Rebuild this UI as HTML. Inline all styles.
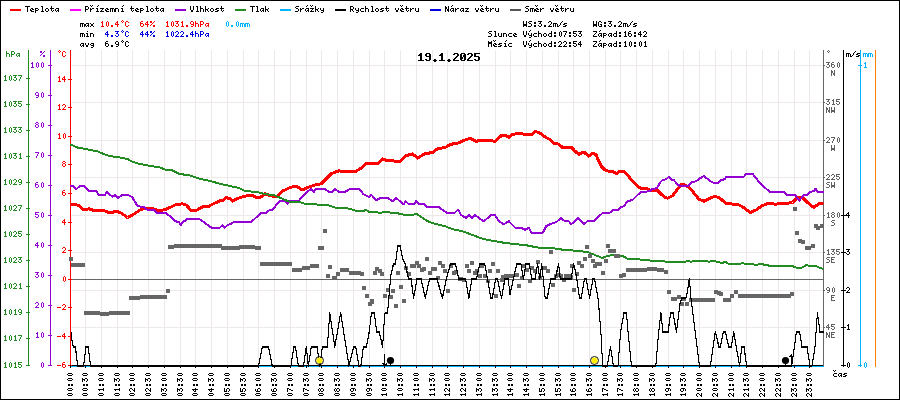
<!DOCTYPE html>
<html><head><meta charset="utf-8"><title>chart</title>
<style>
html,body{margin:0;padding:0;background:#fff;}
#c{position:relative;width:900px;height:400px;overflow:hidden;background:#fff;font-family:"Liberation Mono",monospace;}
#tx{position:absolute;left:0;top:0;width:900px;height:400px;color:transparent;}
.t,.ti,.tr{position:absolute;font-size:8px;line-height:8px;white-space:pre;color:transparent;}
.ti{font-size:11px;line-height:11px;font-weight:bold;}
.tr{transform-origin:0 0;transform:rotate(-90deg);}
</style></head><body><div id="c">
<svg width="900" height="400" viewBox="0 0 900 400" style="position:absolute;left:0;top:0">
<rect x="0" y="0" width="900" height="400" fill="#fff"/>
<path d="M85.5 50V365M101.5 50V365M117.5 50V365M132.5 50V365M148.5 50V365M164.5 50V365M180.5 50V365M195.5 50V365M211.5 50V365M227.5 50V365M243.5 50V365M258.5 50V365M274.5 50V365M290.5 50V365M306.5 50V365M321.5 50V365M337.5 50V365M353.5 50V365M369.5 50V365M384.5 50V365M400.5 50V365M416.5 50V365M432.5 50V365M447.5 50V365M463.5 50V365M479.5 50V365M495.5 50V365M510.5 50V365M526.5 50V365M542.5 50V365M558.5 50V365M573.5 50V365M589.5 50V365M605.5 50V365M620.5 50V365M636.5 50V365M652.5 50V365M668.5 50V365M683.5 50V365M699.5 50V365M715.5 50V365M731.5 50V365M746.5 50V365M762.5 50V365M778.5 50V365M794.5 50V365M809.5 50V365M71 65.5H823M71 102.5H823M71 140.5H823M71 177.5H823M71 215.5H823M71 252.5H823M71 290.5H823M71 327.5H823" stroke="#eee8e8" stroke-width="1" fill="none" shape-rendering="crispEdges"/>
<path d="M71 279.5H823" stroke="#666" stroke-width="1" shape-rendering="crispEdges"/>
<path d="M71 366.5H824" stroke="#00b4ff" stroke-width="1" shape-rendering="crispEdges"/>
<path d="M70 365.5H824" stroke="#000" stroke-width="1" shape-rendering="crispEdges"/>
<g shape-rendering="crispEdges" fill="none" stroke-width="1">
<path d="M28.5 50V366" stroke="#228b22"/>
<path d="M50.5 50V366" stroke="#9400d3"/>
<path d="M70.5 50V366" stroke="#ff0000"/>
<path d="M823.5 50V366" stroke="#666"/>
<path d="M843.5 50V367" stroke="#000"/>
<path d="M860.5 50V367" stroke="#00b4ff"/>
<path d="M875.5 50V367" stroke="#ff8000"/>
<path d="M26 365.5H30M26 338.5H30M26 312.5H30M26 286.5H30M26 260.5H30M26 234.5H30M26 208.5H30M26 182.5H30M26 156.5H30M26 130.5H30M26 104.5H30M26 78.5H30" stroke="#228b22"/>
<path d="M48 365.5H52M48 335.5H52M48 305.5H52M48 275.5H52M48 245.5H52M48 215.5H52M48 185.5H52M48 155.5H52M48 125.5H52M48 95.5H52M48 65.5H52" stroke="#9400d3"/>
<path d="M68 365.5H72M68 336.5H72M68 307.5H72M68 279.5H72M68 250.5H72M68 222.5H72M68 193.5H72M68 164.5H72M68 136.5H72M68 107.5H72M68 79.5H72" stroke="#ff0000"/>
<path d="M823 65.5H825M823 102.5H825M823 140.5H825M823 177.5H825M823 215.5H825M823 252.5H825M823 290.5H825M823 327.5H825" stroke="#666"/>
<path d="M841 215.5H846M841 252.5H846M841 290.5H846M841 327.5H846M841 365.5H846" stroke="#000"/>
<path d="M858 65.5H862M858 365.5H862" stroke="#00b4ff"/>
<path d="M70.5 365V368M85.5 365V368M101.5 365V368M117.5 365V368M132.5 365V368M148.5 365V368M164.5 365V368M180.5 365V368M195.5 365V368M211.5 365V368M227.5 365V368M243.5 365V368M258.5 365V368M274.5 365V368M290.5 365V368M306.5 365V368M321.5 365V368M337.5 365V368M353.5 365V368M369.5 365V368M384.5 365V368M400.5 365V368M416.5 365V368M432.5 365V368M447.5 365V368M463.5 365V368M479.5 365V368M495.5 365V368M510.5 365V368M526.5 365V368M542.5 365V368M558.5 365V368M573.5 365V368M589.5 365V368M605.5 365V368M620.5 365V368M636.5 365V368M652.5 365V368M668.5 365V368M683.5 365V368M699.5 365V368M715.5 365V368M731.5 365V368M746.5 365V368M762.5 365V368M778.5 365V368M794.5 365V368M809.5 365V368" stroke="#000"/>
</g>
<polyline points="70.5,205.0 75.0,204.2 80.0,206.2 83.8,210.0 88.8,208.8 93.8,210.5 103.8,210.5 110.0,213.0 116.2,211.2 121.2,213.0 127.5,217.5 132.5,215.0 140.0,210.0 146.2,208.0 151.2,208.0 156.2,210.0 161.2,210.5 165.0,209.5 170.0,207.5 175.0,205.0 182.5,203.8 186.2,205.0 191.2,210.5 196.2,210.5 202.5,207.0 208.8,206.2 215.0,203.0 220.0,200.8 223.8,200.0 226.2,197.5 230.0,198.8 232.5,201.2 238.8,198.0 245.0,196.2 251.2,195.0 256.2,197.5 260.0,197.5 265.0,193.8 270.0,195.5 276.2,197.0 280.0,193.8 282.5,190.8 285.0,190.0 290.0,187.5 296.2,186.2 302.5,190.0 307.5,187.5 315.0,185.0 321.2,183.8 326.2,178.8 331.2,173.8 338.8,170.8 346.2,171.8 356.2,171.2 361.2,168.0 366.2,163.8 378.8,163.0 382.5,158.8 387.5,160.8 400.0,161.2 405.0,156.2 412.5,153.8 417.5,158.0 425.0,153.8 432.5,152.5 437.5,148.8 445.0,147.5 451.2,144.2 457.5,143.2 463.8,140.5 470.0,138.2 476.2,141.2 485.0,140.0 495.0,141.2 501.2,135.8 506.2,135.5 508.8,137.5 512.5,134.5 518.8,133.2 525.0,134.5 531.2,135.0 535.0,131.2 540.0,133.0 545.0,137.0 550.0,139.5 553.8,143.2 558.8,144.2 562.5,147.5 567.5,148.0 571.2,147.0 575.0,151.2 578.8,154.2 583.8,152.0 588.8,156.2 593.0,153.0 596.2,155.0 598.8,161.2 601.2,166.2 605.0,170.0 608.8,171.2 612.5,171.2 616.2,173.8 620.0,171.2 623.8,171.2 627.5,175.0 632.5,181.2 636.2,185.0 640.0,188.0 645.0,188.0 650.0,190.0 657.5,190.5 661.2,194.2 665.0,197.5 667.5,198.2 672.5,195.8 677.5,189.0 681.2,184.5 685.0,185.0 688.5,187.0 692.5,191.2 698.8,199.2 703.8,201.2 708.8,198.8 715.0,196.2 720.0,198.2 726.2,203.8 737.5,204.2 743.8,207.5 750.0,212.5 756.2,210.0 761.2,206.2 768.8,203.2 775.0,204.2 787.5,203.2 792.5,202.5 797.5,197.5 802.5,197.5 807.5,202.5 813.8,207.5 820.0,203.2 823.5,204.2" fill="none" stroke="#ff0000" stroke-width="3" stroke-linejoin="round" stroke-linecap="butt" shape-rendering="crispEdges"/>
<polyline points="70.5,185.5 73.0,186.2 76.2,189.2 80.0,185.8 83.8,185.8 88.8,191.2 96.2,191.2 98.8,195.0 105.0,195.0 106.8,191.8 112.5,196.8 115.5,195.0 118.0,198.0 122.5,194.5 127.5,194.5 132.5,197.5 137.5,206.2 143.8,207.0 147.5,210.0 153.8,210.0 156.2,212.5 165.0,212.5 170.0,216.2 175.0,221.2 178.8,222.0 180.8,225.0 182.5,222.5 187.5,218.8 198.8,218.8 203.8,222.0 207.5,225.0 211.2,227.5 220.0,227.5 222.5,225.0 224.5,228.0 227.5,225.0 231.2,223.8 233.8,222.0 251.2,222.0 257.5,216.2 261.2,213.0 266.2,213.0 268.8,210.5 272.5,210.0 276.2,205.0 280.0,201.2 285.0,200.5 287.5,203.8 290.0,200.8 298.8,200.8 306.2,192.5 311.2,188.8 313.8,192.0 316.2,188.8 325.0,188.8 328.8,192.0 332.5,192.0 335.0,188.8 338.8,192.0 345.0,192.0 350.0,188.8 358.8,188.8 363.8,194.5 368.8,197.0 371.2,194.5 376.2,200.5 380.0,198.0 387.5,198.0 392.5,201.2 396.2,198.0 403.8,204.5 405.5,201.2 408.8,204.2 413.8,204.2 416.2,201.2 418.8,204.2 423.8,204.2 427.5,207.0 438.8,207.0 446.2,212.5 455.0,212.5 458.0,209.5 461.2,215.0 466.2,218.0 468.8,215.0 471.8,218.0 475.0,215.0 478.8,218.0 483.8,221.2 487.5,218.2 491.2,215.0 495.0,215.0 498.8,221.2 503.8,224.2 508.8,221.2 515.0,227.5 521.2,227.5 525.0,230.0 528.8,227.5 531.8,233.2 542.5,233.2 546.2,226.2 550.0,224.2 556.2,222.0 561.2,218.2 565.0,221.2 568.8,221.2 571.2,224.2 575.0,221.2 578.2,218.2 583.8,224.2 587.5,221.2 593.8,221.2 602.5,213.0 610.0,212.5 613.8,209.5 618.8,209.5 621.2,207.0 623.8,206.2 627.5,201.2 632.5,200.0 637.5,195.0 641.2,192.2 650.0,191.2 652.5,188.8 657.0,188.2 660.0,182.5 662.5,180.0 666.2,179.2 668.8,176.8 671.2,179.5 673.8,180.0 677.5,184.5 680.0,185.8 688.8,185.8 691.2,182.5 696.2,181.2 700.0,178.2 703.8,176.2 707.5,178.8 712.5,182.5 718.8,182.5 721.2,180.0 725.0,179.2 726.2,176.8 743.8,176.8 746.2,173.8 752.5,173.8 757.5,180.0 762.5,185.8 770.0,191.8 783.8,191.8 786.8,195.0 795.0,195.0 799.2,200.8 803.8,195.0 807.5,195.0 810.0,192.0 813.8,191.2 815.5,188.8 817.5,191.8 823.5,191.8" fill="none" stroke="#9400d3" stroke-width="2" stroke-linejoin="round" shape-rendering="crispEdges"/>
<polyline points="70.5,144.5 77.5,147.5 85.0,148.8 92.5,150.5 96.0,150.5 101.0,153.0 109.0,156.0 120.0,157.5 127.5,159.0 132.5,161.8 140.0,164.0 150.0,165.8 160.0,167.5 165.0,169.5 172.5,170.5 179.0,173.8 190.0,175.5 200.0,178.8 210.0,181.0 220.0,183.8 230.0,186.0 239.0,188.0 245.0,191.0 257.0,192.0 265.0,194.0 275.0,195.5 284.0,199.5 290.0,202.0 300.0,202.0 306.2,204.5 315.0,203.8 318.8,205.0 328.8,205.5 336.2,208.0 345.0,208.0 351.2,209.2 357.5,211.2 362.5,211.2 366.2,210.0 370.0,212.5 376.2,212.0 380.0,213.0 383.8,212.0 396.2,213.0 405.0,215.0 412.5,215.0 416.2,213.8 420.0,216.2 427.5,221.2 435.0,223.8 445.0,226.2 452.5,229.2 462.5,231.2 472.5,235.0 482.5,238.8 492.5,240.8 502.5,242.5 515.0,244.2 525.0,245.0 537.5,247.5 552.5,248.2 565.0,250.0 577.5,250.8 587.5,252.0 595.0,255.0 602.5,258.0 607.5,255.8 615.0,255.0 622.5,255.8 627.5,258.8 637.5,259.2 650.0,260.5 670.0,261.8 685.0,261.8 687.5,260.8 691.2,261.8 695.0,260.8 705.0,260.8 708.8,261.8 712.5,260.8 722.5,263.0 725.0,261.8 728.8,263.8 737.5,264.2 742.5,263.2 747.5,264.5 752.5,264.2 756.2,265.0 760.0,263.8 770.0,265.8 785.0,265.8 792.5,266.2 797.5,268.0 802.5,267.5 806.2,265.0 811.2,266.2 816.2,266.2 820.0,268.0 823.5,268.8" fill="none" stroke="#228b22" stroke-width="2" stroke-linejoin="round" shape-rendering="crispEdges"/>
<g fill="#666" shape-rendering="crispEdges"><rect x="69" y="257" width="4" height="4"/><rect x="166" y="289" width="4" height="4"/><rect x="328" y="265" width="4" height="4"/><rect x="326" y="274" width="4" height="4"/><rect x="336" y="272" width="4" height="4"/><rect x="360" y="272" width="4" height="4"/><rect x="362" y="286" width="4" height="4"/><rect x="365" y="294" width="4" height="4"/><rect x="370" y="299" width="4" height="4"/><rect x="373" y="271" width="4" height="4"/><rect x="375" y="267" width="4" height="4"/><rect x="378" y="269" width="4" height="4"/><rect x="380" y="272" width="4" height="4"/><rect x="383" y="294" width="4" height="4"/><rect x="386" y="288" width="4" height="4"/><rect x="389" y="295" width="4" height="4"/><rect x="391" y="289" width="4" height="4"/><rect x="396" y="271" width="4" height="4"/><rect x="399" y="285" width="4" height="4"/><rect x="402" y="299" width="4" height="4"/><rect x="404" y="266" width="4" height="4"/><rect x="407" y="272" width="4" height="4"/><rect x="410" y="264" width="4" height="4"/><rect x="412" y="264" width="4" height="4"/><rect x="415" y="261" width="4" height="4"/><rect x="417" y="264" width="4" height="4"/><rect x="420" y="268" width="4" height="4"/><rect x="422" y="267" width="4" height="4"/><rect x="425" y="257" width="4" height="4"/><rect x="428" y="271" width="4" height="4"/><rect x="431" y="267" width="4" height="4"/><rect x="433" y="267" width="4" height="4"/><rect x="436" y="276" width="4" height="4"/><rect x="438" y="261" width="4" height="4"/><rect x="441" y="264" width="4" height="4"/><rect x="443" y="269" width="4" height="4"/><rect x="446" y="289" width="4" height="4"/><rect x="449" y="264" width="4" height="4"/><rect x="452" y="271" width="4" height="4"/><rect x="454" y="270" width="4" height="4"/><rect x="458" y="277" width="4" height="4"/><rect x="459" y="277" width="4" height="4"/><rect x="462" y="278" width="4" height="4"/><rect x="465" y="264" width="4" height="4"/><rect x="467" y="269" width="4" height="4"/><rect x="470" y="261" width="4" height="4"/><rect x="473" y="271" width="4" height="4"/><rect x="475" y="269" width="4" height="4"/><rect x="478" y="274" width="4" height="4"/><rect x="480" y="264" width="4" height="4"/><rect x="483" y="274" width="4" height="4"/><rect x="486" y="279" width="4" height="4"/><rect x="488" y="269" width="4" height="4"/><rect x="491" y="262" width="4" height="4"/><rect x="494" y="294" width="4" height="4"/><rect x="496" y="269" width="4" height="4"/><rect x="500" y="278" width="4" height="4"/><rect x="501" y="275" width="4" height="4"/><rect x="504" y="274" width="4" height="4"/><rect x="506" y="274" width="4" height="4"/><rect x="510" y="274" width="4" height="4"/><rect x="515" y="273" width="4" height="4"/><rect x="517" y="284" width="4" height="4"/><rect x="520" y="276" width="4" height="4"/><rect x="522" y="264" width="4" height="4"/><rect x="525" y="268" width="4" height="4"/><rect x="528" y="279" width="4" height="4"/><rect x="530" y="266" width="4" height="4"/><rect x="533" y="269" width="4" height="4"/><rect x="536" y="260" width="4" height="4"/><rect x="538" y="276" width="4" height="4"/><rect x="543" y="266" width="4" height="4"/><rect x="546" y="269" width="4" height="4"/><rect x="549" y="250" width="4" height="4"/><rect x="551" y="283" width="4" height="4"/><rect x="554" y="274" width="4" height="4"/><rect x="557" y="273" width="4" height="4"/><rect x="559" y="274" width="4" height="4"/><rect x="562" y="278" width="4" height="4"/><rect x="564" y="274" width="4" height="4"/><rect x="567" y="274" width="4" height="4"/><rect x="569" y="275" width="4" height="4"/><rect x="570" y="264" width="4" height="4"/><rect x="572" y="288" width="4" height="4"/><rect x="575" y="272" width="4" height="4"/><rect x="577" y="261" width="4" height="4"/><rect x="580" y="264" width="4" height="4"/><rect x="583" y="257" width="4" height="4"/><rect x="585" y="245" width="4" height="4"/><rect x="588" y="254" width="4" height="4"/><rect x="591" y="259" width="4" height="4"/><rect x="593" y="264" width="4" height="4"/><rect x="595" y="262" width="4" height="4"/><rect x="598" y="262" width="4" height="4"/><rect x="601" y="271" width="4" height="4"/><rect x="604" y="259" width="4" height="4"/><rect x="606" y="244" width="4" height="4"/><rect x="608" y="249" width="4" height="4"/><rect x="612" y="249" width="4" height="4"/><rect x="614" y="254" width="4" height="4"/><rect x="616" y="254" width="4" height="4"/><rect x="619" y="274" width="4" height="4"/><rect x="622" y="273" width="4" height="4"/><rect x="667" y="290" width="4" height="4"/><rect x="714" y="290" width="4" height="4"/><rect x="717" y="291" width="4" height="4"/><rect x="719" y="292" width="4" height="4"/><rect x="730" y="294" width="4" height="4"/><rect x="790" y="292" width="4" height="4"/><rect x="368" y="302" width="4" height="4"/><rect x="370" y="300" width="4" height="4"/><rect x="394" y="304" width="4" height="4"/><rect x="402" y="299" width="4" height="4"/><rect x="323" y="229" width="4" height="4"/><rect x="680" y="302" width="4" height="4"/><rect x="685" y="302" width="4" height="4"/><rect x="793" y="207" width="4" height="4"/><rect x="795" y="231" width="4" height="4"/><rect x="798" y="239" width="4" height="4"/><rect x="801" y="240" width="4" height="4"/><rect x="811" y="244" width="4" height="4"/><rect x="814" y="224" width="4" height="4"/><rect x="816" y="226" width="4" height="4"/><rect x="71" y="263" width="14" height="4"/><rect x="84" y="311" width="16" height="4"/><rect x="100" y="312" width="9" height="4"/><rect x="109" y="311" width="21" height="4"/><rect x="129" y="296" width="11" height="4"/><rect x="140" y="295" width="27" height="4"/><rect x="168" y="245" width="6" height="4"/><rect x="174" y="244" width="48" height="4"/><rect x="221" y="246" width="19" height="4"/><rect x="239" y="245" width="16" height="4"/><rect x="255" y="246" width="6" height="4"/><rect x="260" y="262" width="32" height="4"/><rect x="292" y="268" width="5" height="4"/><rect x="297" y="268" width="5" height="4"/><rect x="302" y="266" width="8" height="4"/><rect x="310" y="264" width="9" height="4"/><rect x="318" y="246" width="6" height="4"/><rect x="332" y="276" width="5" height="4"/><rect x="340" y="268" width="9" height="4"/><rect x="349" y="271" width="12" height="4"/><rect x="626" y="268" width="21" height="4"/><rect x="647" y="267" width="10" height="4"/><rect x="657" y="268" width="7" height="4"/><rect x="664" y="270" width="4" height="4"/><rect x="671" y="297" width="6" height="4"/><rect x="677" y="295" width="4" height="4"/><rect x="682" y="297" width="4" height="4"/><rect x="689" y="298" width="26" height="4"/><rect x="723" y="298" width="8" height="4"/><rect x="734" y="290" width="4" height="4"/><rect x="738" y="294" width="53" height="4"/><rect x="805" y="246" width="6" height="4"/><rect x="820" y="224" width="4" height="4"/></g>
<g fill="none" stroke="#000" stroke-width="1" stroke-linejoin="miter" shape-rendering="crispEdges"><polyline points="71.0,331.5 72.3,342.5 73.5,346.5 75.2,346.5 75.9,350.5 77.6,365.5 83.5,365.5 86.0,346.5 88.3,346.5 90.5,365.5 258.6,365.5 262.3,346.5 268.6,346.5 272.3,365.5 290.9,365.5 293.8,346.5 295.4,346.5 298.4,365.5 303.5,365.5 306.3,346.5 308.3,365.5 311.3,346.5 317.1,346.5 319.8,365.5 322.4,346.5 327.3,346.5 329.8,312.5 334.8,346.5 340.7,312.5 349.0,365.5 353.7,346.5 355.7,346.5 359.0,365.5 360.8,365.5 363.4,346.5 366.4,346.5 369.2,331.5 371.4,312.5 374.2,312.5 376.8,331.5 379.3,331.5 382.6,346.5 384.3,319.5 385.1,312.5 387.6,312.5 388.8,297.5 391.0,273.9 393.5,263.5 395.5,263.5 397.7,245.5 400.2,245.5 402.7,258.0 405.2,263.5 408.6,278.5 411.1,278.5 413.6,297.5 417.0,278.5 421.1,278.5 425.3,297.5 429.5,278.5 437.0,278.5 442.4,297.5 446.3,278.5 450.5,263.5 455.5,263.5 458.8,278.5 465.5,278.5 468.9,297.5 471.9,278.5 476.4,278.5 479.8,263.5 484.8,263.5 488.1,281.4 490.7,297.5 492.3,297.5 495.7,278.5 497.4,278.5 501.5,297.5 504.9,278.5 508.2,278.5 510.0,294.0 513.4,278.5 516.7,263.5 520.9,263.5 523.4,278.5 525.9,263.5 529.3,263.5 531.8,278.5 535.1,278.5 537.6,263.5 539.8,278.5 541.8,263.5 545.2,297.5 547.2,297.5 551.0,278.5 555.2,278.5 558.6,263.5 560.3,278.5 571.1,278.5 573.7,263.5 576.2,274.7 579.5,297.5 581.2,297.5 584.5,278.5 586.2,278.5 589.6,297.5 592.9,278.5 594.6,278.5 598.4,300.5 601.3,338.0 602.6,365.5 607.2,365.5 610.5,346.5 613.4,365.5 618.0,365.5 620.6,331.5 623.9,312.5 626.4,312.5 628.1,331.5 631.4,365.5 655.8,365.5 658.7,331.5 660.9,312.5 663.0,331.5 668.1,331.5 670.6,312.5 673.1,312.5 676.4,331.5 680.1,302.5 681.8,297.5 686.0,297.5 687.6,289.8 689.3,278.5 691.0,297.5 699.4,365.5 710.3,365.5 715.3,331.5 719.0,346.5 720.3,346.5 723.3,331.5 725.4,331.5 728.7,346.5 731.2,346.5 733.7,331.5 739.6,365.5 741.8,346.5 744.1,346.5 746.6,365.5 791.6,365.5 794.0,349.5 796.4,331.5 799.6,331.5 802.0,346.5 807.0,346.5 810.0,365.5 812.0,365.5 815.0,346.5 817.4,312.5 818.6,320.5 820.0,331.5 823.5,331.5"/><polyline points="71.0,331.5 72.3,342.5 73.5,346.5 75.2,346.5 75.9,350.5 77.6,365.5 83.5,365.5 86.0,346.5 88.3,346.5 90.5,365.5 258.6,365.5 262.3,346.5 268.6,346.5 272.3,365.5 290.9,365.5 293.8,346.5 295.4,346.5 298.4,365.5 303.5,365.5 306.3,346.5 308.3,365.5 311.3,346.5 317.1,346.5 319.8,365.5 322.4,346.5 327.3,346.5 329.8,312.5 334.8,346.5 340.7,312.5 349.0,365.5 353.7,346.5 355.7,346.5 359.0,365.5 360.8,365.5 363.4,346.5 366.4,346.5 369.2,331.5 371.4,312.5 374.2,312.5 376.8,331.5 379.3,331.5 382.6,346.5 384.3,319.5 385.1,312.5 387.6,312.5 388.8,297.5 391.0,273.9 393.5,263.5 395.5,263.5 397.7,245.5 400.2,245.5 402.7,258.0 405.2,263.5 408.6,278.5 411.1,278.5 413.6,297.5 417.0,278.5 421.1,278.5 425.3,297.5 429.5,278.5 437.0,278.5 442.4,297.5 446.3,278.5 450.5,263.5 455.5,263.5 458.8,278.5 465.5,278.5 468.9,297.5 471.9,278.5 476.4,278.5 479.8,263.5 484.8,263.5 488.1,281.4 490.7,297.5 492.3,297.5 495.7,278.5 497.4,278.5 501.5,297.5 504.9,278.5 508.2,278.5 510.0,294.0 513.4,278.5 516.7,263.5 520.9,263.5 523.4,278.5 525.9,263.5 529.3,263.5 531.8,278.5 535.1,278.5 537.6,263.5 539.8,278.5 541.8,263.5 545.2,297.5 547.2,297.5 551.0,278.5 555.2,278.5 558.6,263.5 560.3,278.5 571.1,278.5 573.7,263.5 576.2,274.7 579.5,297.5 581.2,297.5 584.5,278.5 586.2,278.5 589.6,297.5 592.9,278.5 594.6,278.5 598.4,300.5 601.3,338.0 602.6,365.5 607.2,365.5 610.5,346.5 613.4,365.5 618.0,365.5 620.6,331.5 623.9,312.5 626.4,312.5 628.1,331.5 631.4,365.5 655.8,365.5 658.7,331.5 660.9,312.5 663.0,331.5 668.1,331.5 670.6,312.5 673.1,312.5 676.4,331.5 680.1,302.5 681.8,297.5 686.0,297.5 687.6,289.8 689.3,278.5 691.0,297.5 699.4,365.5 710.3,365.5 715.3,331.5 719.0,346.5 720.3,346.5 723.3,331.5 725.4,331.5 728.7,346.5 731.2,346.5 733.7,331.5 739.6,365.5 741.8,346.5 744.1,346.5 746.6,365.5 791.6,365.5 794.0,349.5 796.4,331.5 799.6,331.5 802.0,346.5 807.0,346.5 810.0,365.5 812.0,365.5 815.0,346.5 817.4,312.5 818.6,320.5 820.0,331.5 823.5,331.5" transform="translate(0 1)"/></g>
<circle cx="319.5" cy="360.5" r="3.1" fill="#ffee00"/><circle cx="319.5" cy="360.5" r="4" fill="none" stroke="#000" stroke-width="0.9"/>
<circle cx="594.5" cy="360.5" r="3.1" fill="#ffee00"/><circle cx="594.5" cy="360.5" r="4" fill="none" stroke="#000" stroke-width="0.9"/>
<circle cx="390.5" cy="360.5" r="3.6" fill="#000"/><path d="M390.5 363V365" stroke="#000" stroke-width="1" shape-rendering="crispEdges"/>
<circle cx="785.5" cy="360.5" r="3.6" fill="#000"/><path d="M785.5 363V365" stroke="#000" stroke-width="1" shape-rendering="crispEdges"/>
<path d="M384.5 354V368M382 363h1v1h1v1h1v-1h1v-1h1" stroke="#000" stroke-width="1" fill="none" shape-rendering="crispEdges"/>
<path d="M791.5 354V366M789 356h1v-1h1" stroke="#000" stroke-width="1" fill="none" shape-rendering="crispEdges"/>
<path d="M10 10H21" stroke="#ff0000" stroke-width="2" shape-rendering="crispEdges"/>
<path d="M70 10H81" stroke="#ff00ff" stroke-width="2" shape-rendering="crispEdges"/>
<path d="M175 10H186" stroke="#9400d3" stroke-width="2" shape-rendering="crispEdges"/>
<path d="M235 10H246" stroke="#228b22" stroke-width="2" shape-rendering="crispEdges"/>
<path d="M280 10H291" stroke="#00b4ff" stroke-width="2" shape-rendering="crispEdges"/>
<path d="M335 10H346" stroke="#000" stroke-width="2" shape-rendering="crispEdges"/>
<path d="M430 10H441" stroke="#0000dd" stroke-width="2" shape-rendering="crispEdges"/>
<path d="M510 10H521" stroke="#555" stroke-width="2" shape-rendering="crispEdges"/>
<rect x="0.5" y="0.5" width="899" height="399" fill="none" stroke="#000" stroke-width="1" shape-rendering="crispEdges"/>
</svg>
<svg width="900" height="400" viewBox="0 0 900 400" style="position:absolute;left:0;top:0" shape-rendering="crispEdges"><defs><path id="b002e" d="M2 6h2v1h-2zM1 7h4v1h-4zM2 8h2v1h-2z"/><path id="b0030" d="M1 0h4v1h-4zM0 1h2v1h-2zM4 1h2v1h-2zM0 2h2v1h-2zM3 2h3v1h-3zM0 3h2v1h-2zM3 3h3v1h-3zM0 4h3v1h-3zM4 4h2v1h-2zM0 5h3v1h-3zM4 5h2v1h-2zM0 6h2v1h-2zM4 6h2v1h-2zM1 7h4v1h-4z"/><path id="b0031" d="M2 0h2v1h-2zM1 1h3v1h-3zM0 2h4v1h-4zM2 3h2v1h-2zM2 4h2v1h-2zM2 5h2v1h-2zM2 6h2v1h-2zM0 7h6v1h-6z"/><path id="b0032" d="M1 0h4v1h-4zM0 1h2v1h-2zM4 1h2v1h-2zM4 2h2v1h-2zM3 3h2v1h-2zM2 4h2v1h-2zM1 5h2v1h-2zM0 6h2v1h-2zM0 7h6v1h-6z"/><path id="b0035" d="M0 0h6v1h-6zM0 1h2v1h-2zM0 2h2v1h-2zM0 3h5v1h-5zM4 4h2v1h-2zM4 5h2v1h-2zM0 6h2v1h-2zM4 6h2v1h-2zM1 7h4v1h-4z"/><path id="b0039" d="M1 0h4v1h-4zM0 1h2v1h-2zM4 1h2v1h-2zM0 2h2v1h-2zM4 2h2v1h-2zM1 3h5v1h-5zM4 4h2v1h-2zM4 5h2v1h-2zM0 6h2v1h-2zM4 6h2v1h-2zM1 7h4v1h-4z"/><path id="f0025" d="M0 1h2v1h-2zM4 1h1v1h-1zM0 2h2v1h-2zM3 2h1v1h-1zM2 3h1v1h-1zM1 4h1v1h-1zM0 5h1v1h-1zM3 5h2v1h-2zM3 6h2v1h-2z"/><path id="f002d" d="M0 4h4v1h-4z"/><path id="f002e" d="M1 5h2v1h-2zM1 6h2v1h-2z"/><path id="f002f" d="M4 1h1v1h-1zM3 2h1v1h-1zM2 3h1v1h-1zM2 4h1v1h-1zM1 5h1v1h-1zM0 6h1v1h-1z"/><path id="f0030" d="M2 1h1v1h-1zM1 2h1v1h-1zM3 2h1v1h-1zM1 3h1v1h-1zM3 3h1v1h-1zM1 4h1v1h-1zM3 4h1v1h-1zM1 5h1v1h-1zM3 5h1v1h-1zM2 6h1v1h-1z"/><path id="f0031" d="M2 1h1v1h-1zM1 2h2v1h-2zM2 3h1v1h-1zM2 4h1v1h-1zM2 5h1v1h-1zM1 6h3v1h-3z"/><path id="f0032" d="M1 1h2v1h-2zM0 2h1v1h-1zM3 2h1v1h-1zM3 3h1v1h-1zM2 4h1v1h-1zM1 5h1v1h-1zM0 6h4v1h-4z"/><path id="f0033" d="M0 1h4v1h-4zM2 2h1v1h-1zM1 3h2v1h-2zM3 4h1v1h-1zM0 5h1v1h-1zM3 5h1v1h-1zM1 6h2v1h-2z"/><path id="f0034" d="M2 1h1v1h-1zM1 2h2v1h-2zM0 3h1v1h-1zM2 3h1v1h-1zM0 4h4v1h-4zM2 5h1v1h-1zM2 6h1v1h-1z"/><path id="f0035" d="M0 1h4v1h-4zM0 2h1v1h-1zM0 3h3v1h-3zM3 4h1v1h-1zM0 5h1v1h-1zM3 5h1v1h-1zM1 6h2v1h-2z"/><path id="f0036" d="M1 1h2v1h-2zM0 2h1v1h-1zM0 3h3v1h-3zM0 4h1v1h-1zM3 4h1v1h-1zM0 5h1v1h-1zM3 5h1v1h-1zM1 6h2v1h-2z"/><path id="f0037" d="M0 1h4v1h-4zM3 2h1v1h-1zM2 3h1v1h-1zM2 4h1v1h-1zM1 5h1v1h-1zM1 6h1v1h-1z"/><path id="f0038" d="M1 1h2v1h-2zM0 2h1v1h-1zM3 2h1v1h-1zM1 3h2v1h-2zM0 4h1v1h-1zM3 4h1v1h-1zM0 5h1v1h-1zM3 5h1v1h-1zM1 6h2v1h-2z"/><path id="f0039" d="M1 1h2v1h-2zM0 2h1v1h-1zM3 2h1v1h-1zM0 3h1v1h-1zM3 3h1v1h-1zM1 4h3v1h-3zM3 5h1v1h-1zM1 6h2v1h-2z"/><path id="f003a" d="M1 2h2v1h-2zM1 3h2v1h-2zM1 5h2v1h-2zM1 6h2v1h-2z"/><path id="f0043" d="M1 1h2v1h-2zM0 2h1v1h-1zM3 2h1v1h-1zM0 3h1v1h-1zM0 4h1v1h-1zM0 5h1v1h-1zM3 5h1v1h-1zM1 6h2v1h-2z"/><path id="f0045" d="M0 1h4v1h-4zM0 2h1v1h-1zM0 3h3v1h-3zM0 4h1v1h-1zM0 5h1v1h-1zM0 6h4v1h-4z"/><path id="f0047" d="M1 1h2v1h-2zM0 2h1v1h-1zM3 2h1v1h-1zM0 3h1v1h-1zM0 4h1v1h-1zM2 4h2v1h-2zM0 5h1v1h-1zM3 5h1v1h-1zM1 6h3v1h-3z"/><path id="f004d" d="M0 1h1v1h-1zM3 1h1v1h-1zM0 2h4v1h-4zM0 3h4v1h-4zM0 4h1v1h-1zM3 4h1v1h-1zM0 5h1v1h-1zM3 5h1v1h-1zM0 6h1v1h-1zM3 6h1v1h-1z"/><path id="f004e" d="M0 1h1v1h-1zM3 1h1v1h-1zM0 2h2v1h-2zM3 2h1v1h-1zM0 3h2v1h-2zM3 3h1v1h-1zM0 4h1v1h-1zM2 4h2v1h-2zM0 5h1v1h-1zM2 5h2v1h-2zM0 6h1v1h-1zM3 6h1v1h-1z"/><path id="f0050" d="M0 1h3v1h-3zM0 2h1v1h-1zM3 2h1v1h-1zM0 3h1v1h-1zM3 3h1v1h-1zM0 4h3v1h-3zM0 5h1v1h-1zM0 6h1v1h-1z"/><path id="f0052" d="M0 1h3v1h-3zM0 2h1v1h-1zM3 2h1v1h-1zM0 3h1v1h-1zM3 3h1v1h-1zM0 4h3v1h-3zM0 5h1v1h-1zM2 5h1v1h-1zM0 6h1v1h-1zM3 6h1v1h-1z"/><path id="f0053" d="M1 1h3v1h-3zM0 2h1v1h-1zM1 3h2v1h-2zM3 4h1v1h-1zM3 5h1v1h-1zM0 6h3v1h-3z"/><path id="f0054" d="M0 1h5v1h-5zM2 2h1v1h-1zM2 3h1v1h-1zM2 4h1v1h-1zM2 5h1v1h-1zM2 6h1v1h-1z"/><path id="f0056" d="M0 1h1v1h-1zM3 1h1v1h-1zM0 2h1v1h-1zM3 2h1v1h-1zM0 3h1v1h-1zM3 3h1v1h-1zM0 4h1v1h-1zM3 4h1v1h-1zM1 5h2v1h-2zM1 6h2v1h-2z"/><path id="f0057" d="M0 1h1v1h-1zM3 1h1v1h-1zM0 2h1v1h-1zM3 2h1v1h-1zM0 3h1v1h-1zM3 3h1v1h-1zM0 4h4v1h-4zM0 5h4v1h-4zM0 6h1v1h-1zM3 6h1v1h-1z"/><path id="f005a" d="M0 1h4v1h-4zM3 2h1v1h-1zM2 3h1v1h-1zM1 4h1v1h-1zM0 5h1v1h-1zM0 6h4v1h-4z"/><path id="f0061" d="M1 3h3v1h-3zM0 4h1v1h-1zM3 4h1v1h-1zM0 5h1v1h-1zM2 5h2v1h-2zM1 6h1v1h-1zM3 6h1v1h-1z"/><path id="f0063" d="M1 3h3v1h-3zM0 4h1v1h-1zM0 5h1v1h-1zM1 6h3v1h-3z"/><path id="f0064" d="M3 1h1v1h-1zM3 2h1v1h-1zM1 3h3v1h-3zM0 4h1v1h-1zM3 4h1v1h-1zM0 5h1v1h-1zM3 5h1v1h-1zM1 6h3v1h-3z"/><path id="f0065" d="M1 3h2v1h-2zM0 4h1v1h-1zM2 4h2v1h-2zM0 5h2v1h-2zM1 6h3v1h-3z"/><path id="f0067" d="M1 3h3v1h-3zM0 4h1v1h-1zM3 4h1v1h-1zM1 5h3v1h-3zM3 6h1v1h-1zM1 7h2v1h-2z"/><path id="f0068" d="M0 1h1v1h-1zM0 2h1v1h-1zM0 3h3v1h-3zM0 4h1v1h-1zM3 4h1v1h-1zM0 5h1v1h-1zM3 5h1v1h-1zM0 6h1v1h-1zM3 6h1v1h-1z"/><path id="f0069" d="M2 1h1v1h-1zM1 3h2v1h-2zM2 4h1v1h-1zM2 5h1v1h-1zM1 6h3v1h-3z"/><path id="f006b" d="M0 1h1v1h-1zM0 2h1v1h-1zM0 3h1v1h-1zM3 3h1v1h-1zM0 4h3v1h-3zM0 5h1v1h-1zM2 5h1v1h-1zM0 6h1v1h-1zM3 6h1v1h-1z"/><path id="f006c" d="M1 1h2v1h-2zM2 2h1v1h-1zM2 3h1v1h-1zM2 4h1v1h-1zM2 5h1v1h-1zM1 6h3v1h-3z"/><path id="f006d" d="M0 3h4v1h-4zM0 4h1v1h-1zM2 4h1v1h-1zM4 4h1v1h-1zM0 5h1v1h-1zM2 5h1v1h-1zM4 5h1v1h-1zM0 6h1v1h-1zM2 6h1v1h-1zM4 6h1v1h-1z"/><path id="f006e" d="M0 3h3v1h-3zM0 4h1v1h-1zM3 4h1v1h-1zM0 5h1v1h-1zM3 5h1v1h-1zM0 6h1v1h-1zM3 6h1v1h-1z"/><path id="f006f" d="M1 3h2v1h-2zM0 4h1v1h-1zM3 4h1v1h-1zM0 5h1v1h-1zM3 5h1v1h-1zM1 6h2v1h-2z"/><path id="f0070" d="M0 3h3v1h-3zM0 4h1v1h-1zM3 4h1v1h-1zM0 5h3v1h-3zM0 6h1v1h-1zM0 7h1v1h-1z"/><path id="f0072" d="M0 3h1v1h-1zM2 3h2v1h-2zM0 4h2v1h-2zM0 5h1v1h-1zM0 6h1v1h-1z"/><path id="f0073" d="M1 3h3v1h-3zM0 4h2v1h-2zM2 5h2v1h-2zM0 6h3v1h-3z"/><path id="f0074" d="M1 1h1v1h-1zM1 2h1v1h-1zM0 3h4v1h-4zM1 4h1v1h-1zM1 5h1v1h-1zM3 5h1v1h-1zM2 6h1v1h-1z"/><path id="f0075" d="M0 3h1v1h-1zM3 3h1v1h-1zM0 4h1v1h-1zM3 4h1v1h-1zM0 5h1v1h-1zM3 5h1v1h-1zM1 6h3v1h-3z"/><path id="f0076" d="M0 3h1v1h-1zM3 3h1v1h-1zM0 4h1v1h-1zM3 4h1v1h-1zM1 5h2v1h-2zM1 6h2v1h-2z"/><path id="f0078" d="M0 3h1v1h-1zM3 3h1v1h-1zM1 4h2v1h-2zM1 5h2v1h-2zM0 6h1v1h-1zM3 6h1v1h-1z"/><path id="f0079" d="M0 3h1v1h-1zM3 3h1v1h-1zM0 4h1v1h-1zM3 4h1v1h-1zM1 5h3v1h-3zM3 6h1v1h-1zM1 7h2v1h-2z"/><path id="f007a" d="M0 3h4v1h-4zM2 4h1v1h-1zM1 5h1v1h-1zM0 6h4v1h-4z"/><path id="f00b0" d="M2 0h1v1h-1zM1 1h1v1h-1zM3 1h1v1h-1zM2 2h1v1h-1z"/><path id="f00e1" d="M2 0h1v1h-1zM1 1h1v1h-1zM1 3h3v1h-3zM0 4h1v1h-1zM3 4h1v1h-1zM0 5h1v1h-1zM2 5h2v1h-2zM1 6h1v1h-1zM3 6h1v1h-1z"/><path id="f00ed" d="M3 0h1v1h-1zM2 1h1v1h-1zM1 3h2v1h-2zM2 4h1v1h-1zM2 5h1v1h-1zM1 6h3v1h-3z"/><path id="f00fd" d="M2 0h1v1h-1zM1 1h1v1h-1zM0 3h1v1h-1zM3 3h1v1h-1zM0 4h1v1h-1zM3 4h1v1h-1zM1 5h3v1h-3zM3 6h1v1h-1zM1 7h2v1h-2z"/><path id="f010d" d="M0 0h1v1h-1zM2 0h1v1h-1zM1 1h1v1h-1zM1 3h3v1h-3zM0 4h1v1h-1zM0 5h1v1h-1zM1 6h3v1h-3z"/><path id="f011b" d="M0 0h1v1h-1zM2 0h1v1h-1zM1 1h1v1h-1zM1 3h2v1h-2zM0 4h1v1h-1zM2 4h2v1h-2zM0 5h2v1h-2zM1 6h3v1h-3z"/><path id="f0159" d="M0 0h1v1h-1zM2 0h1v1h-1zM1 1h1v1h-1zM0 3h1v1h-1zM2 3h2v1h-2zM0 4h2v1h-2zM0 5h1v1h-1zM0 6h1v1h-1z"/><path id="f017e" d="M0 0h1v1h-1zM2 0h1v1h-1zM1 1h1v1h-1zM0 3h4v1h-4zM2 4h1v1h-1zM1 5h1v1h-1zM0 6h4v1h-4z"/></defs><g fill="#000"><use href="#f0054" x="25" y="5"/><use href="#f0065" x="30" y="5"/><use href="#f0070" x="35" y="5"/><use href="#f006c" x="40" y="5"/><use href="#f006f" x="45" y="5"/><use href="#f0074" x="50" y="5"/><use href="#f0061" x="55" y="5"/></g>
<g fill="#000"><use href="#f0050" x="85" y="5"/><use href="#f0159" x="90" y="5"/><use href="#f00ed" x="95" y="5"/><use href="#f007a" x="100" y="5"/><use href="#f0065" x="105" y="5"/><use href="#f006d" x="110" y="5"/><use href="#f006e" x="115" y="5"/><use href="#f00ed" x="120" y="5"/><use href="#f0074" x="130" y="5"/><use href="#f0065" x="135" y="5"/><use href="#f0070" x="140" y="5"/><use href="#f006c" x="145" y="5"/><use href="#f006f" x="150" y="5"/><use href="#f0074" x="155" y="5"/><use href="#f0061" x="160" y="5"/></g>
<g fill="#000"><use href="#f0056" x="190" y="5"/><use href="#f006c" x="195" y="5"/><use href="#f0068" x="200" y="5"/><use href="#f006b" x="205" y="5"/><use href="#f006f" x="210" y="5"/><use href="#f0073" x="215" y="5"/><use href="#f0074" x="220" y="5"/></g>
<g fill="#000"><use href="#f0054" x="250" y="5"/><use href="#f006c" x="255" y="5"/><use href="#f0061" x="260" y="5"/><use href="#f006b" x="265" y="5"/></g>
<g fill="#000"><use href="#f0053" x="295" y="5"/><use href="#f0072" x="300" y="5"/><use href="#f00e1" x="305" y="5"/><use href="#f017e" x="310" y="5"/><use href="#f006b" x="315" y="5"/><use href="#f0079" x="320" y="5"/></g>
<g fill="#000"><use href="#f0052" x="350" y="5"/><use href="#f0079" x="355" y="5"/><use href="#f0063" x="360" y="5"/><use href="#f0068" x="365" y="5"/><use href="#f006c" x="370" y="5"/><use href="#f006f" x="375" y="5"/><use href="#f0073" x="380" y="5"/><use href="#f0074" x="385" y="5"/><use href="#f0076" x="395" y="5"/><use href="#f011b" x="400" y="5"/><use href="#f0074" x="405" y="5"/><use href="#f0072" x="410" y="5"/><use href="#f0075" x="415" y="5"/></g>
<g fill="#000"><use href="#f004e" x="445" y="5"/><use href="#f00e1" x="450" y="5"/><use href="#f0072" x="455" y="5"/><use href="#f0061" x="460" y="5"/><use href="#f007a" x="465" y="5"/><use href="#f0076" x="475" y="5"/><use href="#f011b" x="480" y="5"/><use href="#f0074" x="485" y="5"/><use href="#f0072" x="490" y="5"/><use href="#f0075" x="495" y="5"/></g>
<g fill="#000"><use href="#f0053" x="525" y="5"/><use href="#f006d" x="530" y="5"/><use href="#f011b" x="535" y="5"/><use href="#f0072" x="540" y="5"/><use href="#f0076" x="550" y="5"/><use href="#f011b" x="555" y="5"/><use href="#f0074" x="560" y="5"/><use href="#f0072" x="565" y="5"/><use href="#f0075" x="570" y="5"/></g>
<g fill="#000"><use href="#f006d" x="80" y="20"/><use href="#f0061" x="85" y="20"/><use href="#f0078" x="90" y="20"/></g>
<g fill="#000"><use href="#f006d" x="80" y="30"/><use href="#f0069" x="85" y="30"/><use href="#f006e" x="90" y="30"/></g>
<g fill="#000"><use href="#f0061" x="80" y="40"/><use href="#f0076" x="85" y="40"/><use href="#f0067" x="90" y="40"/></g>
<g fill="#ff0000"><use href="#f0031" x="100" y="20"/><use href="#f0030" x="105" y="20"/><use href="#f002e" x="110" y="20"/><use href="#f0034" x="115" y="20"/><use href="#f00b0" x="120" y="20"/><use href="#f0043" x="125" y="20"/></g>
<g fill="#0000e0"><use href="#f0034" x="105" y="30"/><use href="#f002e" x="110" y="30"/><use href="#f0033" x="115" y="30"/><use href="#f00b0" x="120" y="30"/><use href="#f0043" x="125" y="30"/></g>
<g fill="#000"><use href="#f0036" x="105" y="40"/><use href="#f002e" x="110" y="40"/><use href="#f0039" x="115" y="40"/><use href="#f00b0" x="120" y="40"/><use href="#f0043" x="125" y="40"/></g>
<g fill="#ff0000"><use href="#f0036" x="140" y="20"/><use href="#f0034" x="145" y="20"/><use href="#f0025" x="150" y="20"/></g>
<g fill="#0000e0"><use href="#f0034" x="140" y="30"/><use href="#f0034" x="145" y="30"/><use href="#f0025" x="150" y="30"/></g>
<g fill="#ff0000"><use href="#f0031" x="165" y="20"/><use href="#f0030" x="170" y="20"/><use href="#f0033" x="175" y="20"/><use href="#f0031" x="180" y="20"/><use href="#f002e" x="185" y="20"/><use href="#f0039" x="190" y="20"/><use href="#f0068" x="195" y="20"/><use href="#f0050" x="200" y="20"/><use href="#f0061" x="205" y="20"/></g>
<g fill="#0000e0"><use href="#f0031" x="165" y="30"/><use href="#f0030" x="170" y="30"/><use href="#f0032" x="175" y="30"/><use href="#f0032" x="180" y="30"/><use href="#f002e" x="185" y="30"/><use href="#f0034" x="190" y="30"/><use href="#f0068" x="195" y="30"/><use href="#f0050" x="200" y="30"/><use href="#f0061" x="205" y="30"/></g>
<g fill="#00b4ff"><use href="#f0030" x="225" y="20"/><use href="#f002e" x="230" y="20"/><use href="#f0030" x="235" y="20"/><use href="#f006d" x="240" y="20"/><use href="#f006d" x="245" y="20"/></g>
<g fill="#000"><use href="#f0057" x="523" y="20"/><use href="#f0053" x="528" y="20"/><use href="#f003a" x="533" y="20"/><use href="#f0033" x="538" y="20"/><use href="#f002e" x="543" y="20"/><use href="#f0032" x="548" y="20"/><use href="#f006d" x="553" y="20"/><use href="#f002f" x="558" y="20"/><use href="#f0073" x="563" y="20"/></g>
<g fill="#000"><use href="#f0057" x="593" y="20"/><use href="#f0047" x="598" y="20"/><use href="#f003a" x="603" y="20"/><use href="#f0033" x="608" y="20"/><use href="#f002e" x="613" y="20"/><use href="#f0032" x="618" y="20"/><use href="#f006d" x="623" y="20"/><use href="#f002f" x="628" y="20"/><use href="#f0073" x="633" y="20"/></g>
<g fill="#000"><use href="#f0053" x="488" y="30"/><use href="#f006c" x="493" y="30"/><use href="#f0075" x="498" y="30"/><use href="#f006e" x="503" y="30"/><use href="#f0063" x="508" y="30"/><use href="#f0065" x="513" y="30"/></g>
<g fill="#000"><use href="#f0056" x="523" y="30"/><use href="#f00fd" x="528" y="30"/><use href="#f0063" x="533" y="30"/><use href="#f0068" x="538" y="30"/><use href="#f006f" x="543" y="30"/><use href="#f0064" x="548" y="30"/><use href="#f003a" x="553" y="30"/><use href="#f0030" x="558" y="30"/><use href="#f0037" x="563" y="30"/><use href="#f003a" x="568" y="30"/><use href="#f0035" x="573" y="30"/><use href="#f0033" x="578" y="30"/></g>
<g fill="#000"><use href="#f005a" x="593" y="30"/><use href="#f00e1" x="598" y="30"/><use href="#f0070" x="603" y="30"/><use href="#f0061" x="608" y="30"/><use href="#f0064" x="613" y="30"/><use href="#f003a" x="618" y="30"/><use href="#f0031" x="623" y="30"/><use href="#f0036" x="628" y="30"/><use href="#f003a" x="633" y="30"/><use href="#f0034" x="638" y="30"/><use href="#f0032" x="643" y="30"/></g>
<g fill="#000"><use href="#f004d" x="488" y="40"/><use href="#f011b" x="493" y="40"/><use href="#f0073" x="498" y="40"/><use href="#f00ed" x="503" y="40"/><use href="#f0063" x="508" y="40"/></g>
<g fill="#000"><use href="#f0056" x="523" y="40"/><use href="#f00fd" x="528" y="40"/><use href="#f0063" x="533" y="40"/><use href="#f0068" x="538" y="40"/><use href="#f006f" x="543" y="40"/><use href="#f0064" x="548" y="40"/><use href="#f003a" x="553" y="40"/><use href="#f0032" x="558" y="40"/><use href="#f0032" x="563" y="40"/><use href="#f003a" x="568" y="40"/><use href="#f0035" x="573" y="40"/><use href="#f0034" x="578" y="40"/></g>
<g fill="#000"><use href="#f005a" x="593" y="40"/><use href="#f00e1" x="598" y="40"/><use href="#f0070" x="603" y="40"/><use href="#f0061" x="608" y="40"/><use href="#f0064" x="613" y="40"/><use href="#f003a" x="618" y="40"/><use href="#f0031" x="623" y="40"/><use href="#f0030" x="628" y="40"/><use href="#f003a" x="633" y="40"/><use href="#f0030" x="638" y="40"/><use href="#f0031" x="643" y="40"/></g>
<g fill="#000"><use href="#b0031" x="418" y="53"/><use href="#b0039" x="425" y="53"/><use href="#b002e" x="432" y="53"/><use href="#b0031" x="439" y="53"/><use href="#b002e" x="446" y="53"/><use href="#b0032" x="453" y="53"/><use href="#b0030" x="460" y="53"/><use href="#b0032" x="467" y="53"/><use href="#b0035" x="474" y="53"/></g>
<g fill="#228b22"><use href="#f0068" x="6" y="50"/><use href="#f0050" x="11" y="50"/><use href="#f0061" x="16" y="50"/></g>
<g fill="#9400d3"><use href="#f0025" x="40" y="50"/></g>
<g fill="#ff0000"><use href="#f00b0" x="57" y="50"/><use href="#f0043" x="62" y="50"/></g>
<g fill="#228b22"><use href="#f0031" x="3" y="361"/><use href="#f0030" x="8" y="361"/><use href="#f0031" x="13" y="361"/><use href="#f0035" x="18" y="361"/></g>
<g fill="#228b22"><use href="#f0031" x="3" y="334"/><use href="#f0030" x="8" y="334"/><use href="#f0031" x="13" y="334"/><use href="#f0037" x="18" y="334"/></g>
<g fill="#228b22"><use href="#f0031" x="3" y="308"/><use href="#f0030" x="8" y="308"/><use href="#f0031" x="13" y="308"/><use href="#f0039" x="18" y="308"/></g>
<g fill="#228b22"><use href="#f0031" x="3" y="282"/><use href="#f0030" x="8" y="282"/><use href="#f0032" x="13" y="282"/><use href="#f0031" x="18" y="282"/></g>
<g fill="#228b22"><use href="#f0031" x="3" y="256"/><use href="#f0030" x="8" y="256"/><use href="#f0032" x="13" y="256"/><use href="#f0033" x="18" y="256"/></g>
<g fill="#228b22"><use href="#f0031" x="3" y="230"/><use href="#f0030" x="8" y="230"/><use href="#f0032" x="13" y="230"/><use href="#f0035" x="18" y="230"/></g>
<g fill="#228b22"><use href="#f0031" x="3" y="204"/><use href="#f0030" x="8" y="204"/><use href="#f0032" x="13" y="204"/><use href="#f0037" x="18" y="204"/></g>
<g fill="#228b22"><use href="#f0031" x="3" y="178"/><use href="#f0030" x="8" y="178"/><use href="#f0032" x="13" y="178"/><use href="#f0039" x="18" y="178"/></g>
<g fill="#228b22"><use href="#f0031" x="3" y="152"/><use href="#f0030" x="8" y="152"/><use href="#f0033" x="13" y="152"/><use href="#f0031" x="18" y="152"/></g>
<g fill="#228b22"><use href="#f0031" x="3" y="126"/><use href="#f0030" x="8" y="126"/><use href="#f0033" x="13" y="126"/><use href="#f0033" x="18" y="126"/></g>
<g fill="#228b22"><use href="#f0031" x="3" y="100"/><use href="#f0030" x="8" y="100"/><use href="#f0033" x="13" y="100"/><use href="#f0035" x="18" y="100"/></g>
<g fill="#228b22"><use href="#f0031" x="3" y="74"/><use href="#f0030" x="8" y="74"/><use href="#f0033" x="13" y="74"/><use href="#f0037" x="18" y="74"/></g>
<g fill="#9400d3"><use href="#f0030" x="40" y="361"/></g>
<g fill="#9400d3"><use href="#f0031" x="35" y="331"/><use href="#f0030" x="40" y="331"/></g>
<g fill="#9400d3"><use href="#f0032" x="35" y="301"/><use href="#f0030" x="40" y="301"/></g>
<g fill="#9400d3"><use href="#f0033" x="35" y="271"/><use href="#f0030" x="40" y="271"/></g>
<g fill="#9400d3"><use href="#f0034" x="35" y="241"/><use href="#f0030" x="40" y="241"/></g>
<g fill="#9400d3"><use href="#f0035" x="35" y="211"/><use href="#f0030" x="40" y="211"/></g>
<g fill="#9400d3"><use href="#f0036" x="35" y="181"/><use href="#f0030" x="40" y="181"/></g>
<g fill="#9400d3"><use href="#f0037" x="35" y="151"/><use href="#f0030" x="40" y="151"/></g>
<g fill="#9400d3"><use href="#f0038" x="35" y="121"/><use href="#f0030" x="40" y="121"/></g>
<g fill="#9400d3"><use href="#f0039" x="35" y="91"/><use href="#f0030" x="40" y="91"/></g>
<g fill="#9400d3"><use href="#f0031" x="30" y="61"/><use href="#f0030" x="35" y="61"/><use href="#f0030" x="40" y="61"/></g>
<g fill="#ff0000"><use href="#f002d" x="57" y="361"/><use href="#f0036" x="62" y="361"/></g>
<g fill="#ff0000"><use href="#f002d" x="57" y="332"/><use href="#f0034" x="62" y="332"/></g>
<g fill="#ff0000"><use href="#f002d" x="57" y="303"/><use href="#f0032" x="62" y="303"/></g>
<g fill="#ff0000"><use href="#f0030" x="62" y="275"/></g>
<g fill="#ff0000"><use href="#f0032" x="62" y="246"/></g>
<g fill="#ff0000"><use href="#f0034" x="62" y="218"/></g>
<g fill="#ff0000"><use href="#f0036" x="62" y="189"/></g>
<g fill="#ff0000"><use href="#f0038" x="62" y="160"/></g>
<g fill="#ff0000"><use href="#f0031" x="57" y="132"/><use href="#f0030" x="62" y="132"/></g>
<g fill="#ff0000"><use href="#f0031" x="57" y="103"/><use href="#f0032" x="62" y="103"/></g>
<g fill="#ff0000"><use href="#f0031" x="57" y="75"/><use href="#f0034" x="62" y="75"/></g>
<g fill="#606060"><use href="#f0033" x="826" y="61"/><use href="#f0036" x="831" y="61"/><use href="#f0030" x="836" y="61"/></g>
<g fill="#606060"><use href="#f004e" x="831" y="69"/></g>
<g fill="#606060"><use href="#f0033" x="826" y="98"/><use href="#f0031" x="831" y="98"/><use href="#f0035" x="836" y="98"/></g>
<g fill="#606060"><use href="#f004e" x="826" y="106"/><use href="#f0057" x="831" y="106"/></g>
<g fill="#606060"><use href="#f0032" x="826" y="136"/><use href="#f0037" x="831" y="136"/><use href="#f0030" x="836" y="136"/></g>
<g fill="#606060"><use href="#f0057" x="831" y="144"/></g>
<g fill="#606060"><use href="#f0032" x="826" y="173"/><use href="#f0032" x="831" y="173"/><use href="#f0035" x="836" y="173"/></g>
<g fill="#606060"><use href="#f0053" x="826" y="181"/><use href="#f0057" x="831" y="181"/></g>
<g fill="#606060"><use href="#f0031" x="826" y="211"/><use href="#f0038" x="831" y="211"/><use href="#f0030" x="836" y="211"/></g>
<g fill="#606060"><use href="#f0053" x="831" y="219"/></g>
<g fill="#606060"><use href="#f0031" x="826" y="248"/><use href="#f0033" x="831" y="248"/><use href="#f0035" x="836" y="248"/></g>
<g fill="#606060"><use href="#f0053" x="826" y="256"/><use href="#f0045" x="831" y="256"/></g>
<g fill="#606060"><use href="#f0039" x="826" y="286"/><use href="#f0030" x="831" y="286"/></g>
<g fill="#606060"><use href="#f0045" x="831" y="294"/></g>
<g fill="#606060"><use href="#f0034" x="826" y="323"/><use href="#f0035" x="831" y="323"/></g>
<g fill="#606060"><use href="#f004e" x="826" y="331"/><use href="#f0045" x="831" y="331"/></g>
<g fill="#606060"><use href="#f00b0" x="826" y="50"/></g>
<g fill="#000"><use href="#f006d" x="846" y="50"/><use href="#f002f" x="851" y="50"/><use href="#f0073" x="856" y="50"/></g>
<g fill="#00b4ff"><use href="#f006d" x="863" y="50"/><use href="#f006d" x="868" y="50"/></g>
<g fill="#000"><use href="#f0034" x="846" y="211"/></g>
<g fill="#000"><use href="#f0033" x="846" y="248"/></g>
<g fill="#000"><use href="#f0032" x="846" y="286"/></g>
<g fill="#000"><use href="#f0031" x="846" y="323"/></g>
<g fill="#000"><use href="#f0030" x="846" y="361"/></g>
<g fill="#00b4ff"><use href="#f0031" x="863" y="61"/></g>
<g fill="#00b4ff"><use href="#f0030" x="863" y="361"/></g>
<g fill="#000"><use href="#f010d" x="833" y="370"/><use href="#f0061" x="838" y="370"/><use href="#f0073" x="843" y="370"/></g>
<g transform="translate(66 397) rotate(-90)"><use href="#f0030" x="0" y="0"/><use href="#f0030" x="5" y="0"/><use href="#f003a" x="10" y="0"/><use href="#f0030" x="15" y="0"/><use href="#f0030" x="20" y="0"/></g>
<g transform="translate(81 397) rotate(-90)"><use href="#f0030" x="0" y="0"/><use href="#f0030" x="5" y="0"/><use href="#f003a" x="10" y="0"/><use href="#f0033" x="15" y="0"/><use href="#f0030" x="20" y="0"/></g>
<g transform="translate(97 397) rotate(-90)"><use href="#f0030" x="0" y="0"/><use href="#f0031" x="5" y="0"/><use href="#f003a" x="10" y="0"/><use href="#f0030" x="15" y="0"/><use href="#f0030" x="20" y="0"/></g>
<g transform="translate(113 397) rotate(-90)"><use href="#f0030" x="0" y="0"/><use href="#f0031" x="5" y="0"/><use href="#f003a" x="10" y="0"/><use href="#f0033" x="15" y="0"/><use href="#f0030" x="20" y="0"/></g>
<g transform="translate(128 397) rotate(-90)"><use href="#f0030" x="0" y="0"/><use href="#f0032" x="5" y="0"/><use href="#f003a" x="10" y="0"/><use href="#f0030" x="15" y="0"/><use href="#f0030" x="20" y="0"/></g>
<g transform="translate(144 397) rotate(-90)"><use href="#f0030" x="0" y="0"/><use href="#f0032" x="5" y="0"/><use href="#f003a" x="10" y="0"/><use href="#f0033" x="15" y="0"/><use href="#f0030" x="20" y="0"/></g>
<g transform="translate(160 397) rotate(-90)"><use href="#f0030" x="0" y="0"/><use href="#f0033" x="5" y="0"/><use href="#f003a" x="10" y="0"/><use href="#f0030" x="15" y="0"/><use href="#f0030" x="20" y="0"/></g>
<g transform="translate(176 397) rotate(-90)"><use href="#f0030" x="0" y="0"/><use href="#f0033" x="5" y="0"/><use href="#f003a" x="10" y="0"/><use href="#f0033" x="15" y="0"/><use href="#f0030" x="20" y="0"/></g>
<g transform="translate(191 397) rotate(-90)"><use href="#f0030" x="0" y="0"/><use href="#f0034" x="5" y="0"/><use href="#f003a" x="10" y="0"/><use href="#f0030" x="15" y="0"/><use href="#f0030" x="20" y="0"/></g>
<g transform="translate(207 397) rotate(-90)"><use href="#f0030" x="0" y="0"/><use href="#f0034" x="5" y="0"/><use href="#f003a" x="10" y="0"/><use href="#f0033" x="15" y="0"/><use href="#f0030" x="20" y="0"/></g>
<g transform="translate(223 397) rotate(-90)"><use href="#f0030" x="0" y="0"/><use href="#f0035" x="5" y="0"/><use href="#f003a" x="10" y="0"/><use href="#f0030" x="15" y="0"/><use href="#f0030" x="20" y="0"/></g>
<g transform="translate(239 397) rotate(-90)"><use href="#f0030" x="0" y="0"/><use href="#f0035" x="5" y="0"/><use href="#f003a" x="10" y="0"/><use href="#f0033" x="15" y="0"/><use href="#f0030" x="20" y="0"/></g>
<g transform="translate(254 397) rotate(-90)"><use href="#f0030" x="0" y="0"/><use href="#f0036" x="5" y="0"/><use href="#f003a" x="10" y="0"/><use href="#f0030" x="15" y="0"/><use href="#f0030" x="20" y="0"/></g>
<g transform="translate(270 397) rotate(-90)"><use href="#f0030" x="0" y="0"/><use href="#f0036" x="5" y="0"/><use href="#f003a" x="10" y="0"/><use href="#f0033" x="15" y="0"/><use href="#f0030" x="20" y="0"/></g>
<g transform="translate(286 397) rotate(-90)"><use href="#f0030" x="0" y="0"/><use href="#f0037" x="5" y="0"/><use href="#f003a" x="10" y="0"/><use href="#f0030" x="15" y="0"/><use href="#f0030" x="20" y="0"/></g>
<g transform="translate(302 397) rotate(-90)"><use href="#f0030" x="0" y="0"/><use href="#f0037" x="5" y="0"/><use href="#f003a" x="10" y="0"/><use href="#f0033" x="15" y="0"/><use href="#f0030" x="20" y="0"/></g>
<g transform="translate(317 397) rotate(-90)"><use href="#f0030" x="0" y="0"/><use href="#f0038" x="5" y="0"/><use href="#f003a" x="10" y="0"/><use href="#f0030" x="15" y="0"/><use href="#f0030" x="20" y="0"/></g>
<g transform="translate(333 397) rotate(-90)"><use href="#f0030" x="0" y="0"/><use href="#f0038" x="5" y="0"/><use href="#f003a" x="10" y="0"/><use href="#f0033" x="15" y="0"/><use href="#f0030" x="20" y="0"/></g>
<g transform="translate(349 397) rotate(-90)"><use href="#f0030" x="0" y="0"/><use href="#f0039" x="5" y="0"/><use href="#f003a" x="10" y="0"/><use href="#f0030" x="15" y="0"/><use href="#f0030" x="20" y="0"/></g>
<g transform="translate(365 397) rotate(-90)"><use href="#f0030" x="0" y="0"/><use href="#f0039" x="5" y="0"/><use href="#f003a" x="10" y="0"/><use href="#f0033" x="15" y="0"/><use href="#f0030" x="20" y="0"/></g>
<g transform="translate(380 397) rotate(-90)"><use href="#f0031" x="0" y="0"/><use href="#f0030" x="5" y="0"/><use href="#f003a" x="10" y="0"/><use href="#f0030" x="15" y="0"/><use href="#f0030" x="20" y="0"/></g>
<g transform="translate(396 397) rotate(-90)"><use href="#f0031" x="0" y="0"/><use href="#f0030" x="5" y="0"/><use href="#f003a" x="10" y="0"/><use href="#f0033" x="15" y="0"/><use href="#f0030" x="20" y="0"/></g>
<g transform="translate(412 397) rotate(-90)"><use href="#f0031" x="0" y="0"/><use href="#f0031" x="5" y="0"/><use href="#f003a" x="10" y="0"/><use href="#f0030" x="15" y="0"/><use href="#f0030" x="20" y="0"/></g>
<g transform="translate(428 397) rotate(-90)"><use href="#f0031" x="0" y="0"/><use href="#f0031" x="5" y="0"/><use href="#f003a" x="10" y="0"/><use href="#f0033" x="15" y="0"/><use href="#f0030" x="20" y="0"/></g>
<g transform="translate(443 397) rotate(-90)"><use href="#f0031" x="0" y="0"/><use href="#f0032" x="5" y="0"/><use href="#f003a" x="10" y="0"/><use href="#f0030" x="15" y="0"/><use href="#f0030" x="20" y="0"/></g>
<g transform="translate(459 397) rotate(-90)"><use href="#f0031" x="0" y="0"/><use href="#f0032" x="5" y="0"/><use href="#f003a" x="10" y="0"/><use href="#f0033" x="15" y="0"/><use href="#f0030" x="20" y="0"/></g>
<g transform="translate(475 397) rotate(-90)"><use href="#f0031" x="0" y="0"/><use href="#f0033" x="5" y="0"/><use href="#f003a" x="10" y="0"/><use href="#f0030" x="15" y="0"/><use href="#f0030" x="20" y="0"/></g>
<g transform="translate(491 397) rotate(-90)"><use href="#f0031" x="0" y="0"/><use href="#f0033" x="5" y="0"/><use href="#f003a" x="10" y="0"/><use href="#f0033" x="15" y="0"/><use href="#f0030" x="20" y="0"/></g>
<g transform="translate(506 397) rotate(-90)"><use href="#f0031" x="0" y="0"/><use href="#f0034" x="5" y="0"/><use href="#f003a" x="10" y="0"/><use href="#f0030" x="15" y="0"/><use href="#f0030" x="20" y="0"/></g>
<g transform="translate(522 397) rotate(-90)"><use href="#f0031" x="0" y="0"/><use href="#f0034" x="5" y="0"/><use href="#f003a" x="10" y="0"/><use href="#f0033" x="15" y="0"/><use href="#f0030" x="20" y="0"/></g>
<g transform="translate(538 397) rotate(-90)"><use href="#f0031" x="0" y="0"/><use href="#f0035" x="5" y="0"/><use href="#f003a" x="10" y="0"/><use href="#f0030" x="15" y="0"/><use href="#f0030" x="20" y="0"/></g>
<g transform="translate(554 397) rotate(-90)"><use href="#f0031" x="0" y="0"/><use href="#f0035" x="5" y="0"/><use href="#f003a" x="10" y="0"/><use href="#f0033" x="15" y="0"/><use href="#f0030" x="20" y="0"/></g>
<g transform="translate(569 397) rotate(-90)"><use href="#f0031" x="0" y="0"/><use href="#f0036" x="5" y="0"/><use href="#f003a" x="10" y="0"/><use href="#f0030" x="15" y="0"/><use href="#f0030" x="20" y="0"/></g>
<g transform="translate(585 397) rotate(-90)"><use href="#f0031" x="0" y="0"/><use href="#f0036" x="5" y="0"/><use href="#f003a" x="10" y="0"/><use href="#f0033" x="15" y="0"/><use href="#f0030" x="20" y="0"/></g>
<g transform="translate(601 397) rotate(-90)"><use href="#f0031" x="0" y="0"/><use href="#f0037" x="5" y="0"/><use href="#f003a" x="10" y="0"/><use href="#f0030" x="15" y="0"/><use href="#f0030" x="20" y="0"/></g>
<g transform="translate(616 397) rotate(-90)"><use href="#f0031" x="0" y="0"/><use href="#f0037" x="5" y="0"/><use href="#f003a" x="10" y="0"/><use href="#f0033" x="15" y="0"/><use href="#f0030" x="20" y="0"/></g>
<g transform="translate(632 397) rotate(-90)"><use href="#f0031" x="0" y="0"/><use href="#f0038" x="5" y="0"/><use href="#f003a" x="10" y="0"/><use href="#f0030" x="15" y="0"/><use href="#f0030" x="20" y="0"/></g>
<g transform="translate(648 397) rotate(-90)"><use href="#f0031" x="0" y="0"/><use href="#f0038" x="5" y="0"/><use href="#f003a" x="10" y="0"/><use href="#f0033" x="15" y="0"/><use href="#f0030" x="20" y="0"/></g>
<g transform="translate(664 397) rotate(-90)"><use href="#f0031" x="0" y="0"/><use href="#f0039" x="5" y="0"/><use href="#f003a" x="10" y="0"/><use href="#f0030" x="15" y="0"/><use href="#f0030" x="20" y="0"/></g>
<g transform="translate(679 397) rotate(-90)"><use href="#f0031" x="0" y="0"/><use href="#f0039" x="5" y="0"/><use href="#f003a" x="10" y="0"/><use href="#f0033" x="15" y="0"/><use href="#f0030" x="20" y="0"/></g>
<g transform="translate(695 397) rotate(-90)"><use href="#f0032" x="0" y="0"/><use href="#f0030" x="5" y="0"/><use href="#f003a" x="10" y="0"/><use href="#f0030" x="15" y="0"/><use href="#f0030" x="20" y="0"/></g>
<g transform="translate(711 397) rotate(-90)"><use href="#f0032" x="0" y="0"/><use href="#f0030" x="5" y="0"/><use href="#f003a" x="10" y="0"/><use href="#f0033" x="15" y="0"/><use href="#f0030" x="20" y="0"/></g>
<g transform="translate(727 397) rotate(-90)"><use href="#f0032" x="0" y="0"/><use href="#f0031" x="5" y="0"/><use href="#f003a" x="10" y="0"/><use href="#f0030" x="15" y="0"/><use href="#f0030" x="20" y="0"/></g>
<g transform="translate(742 397) rotate(-90)"><use href="#f0032" x="0" y="0"/><use href="#f0031" x="5" y="0"/><use href="#f003a" x="10" y="0"/><use href="#f0033" x="15" y="0"/><use href="#f0030" x="20" y="0"/></g>
<g transform="translate(758 397) rotate(-90)"><use href="#f0032" x="0" y="0"/><use href="#f0032" x="5" y="0"/><use href="#f003a" x="10" y="0"/><use href="#f0030" x="15" y="0"/><use href="#f0030" x="20" y="0"/></g>
<g transform="translate(774 397) rotate(-90)"><use href="#f0032" x="0" y="0"/><use href="#f0032" x="5" y="0"/><use href="#f003a" x="10" y="0"/><use href="#f0033" x="15" y="0"/><use href="#f0030" x="20" y="0"/></g>
<g transform="translate(790 397) rotate(-90)"><use href="#f0032" x="0" y="0"/><use href="#f0033" x="5" y="0"/><use href="#f003a" x="10" y="0"/><use href="#f0030" x="15" y="0"/><use href="#f0030" x="20" y="0"/></g>
<g transform="translate(805 397) rotate(-90)"><use href="#f0032" x="0" y="0"/><use href="#f0033" x="5" y="0"/><use href="#f003a" x="10" y="0"/><use href="#f0033" x="15" y="0"/><use href="#f0030" x="20" y="0"/></g></svg>
<div id="tx"><div class="t" style="left:25px;top:5px">Teplota</div>
<div class="t" style="left:85px;top:5px">Přízemní&nbsp;teplota</div>
<div class="t" style="left:190px;top:5px">Vlhkost</div>
<div class="t" style="left:250px;top:5px">Tlak</div>
<div class="t" style="left:295px;top:5px">Srážky</div>
<div class="t" style="left:350px;top:5px">Rychlost&nbsp;větru</div>
<div class="t" style="left:445px;top:5px">Náraz&nbsp;větru</div>
<div class="t" style="left:525px;top:5px">Směr&nbsp;větru</div>
<div class="t" style="left:80px;top:20px">max</div>
<div class="t" style="left:80px;top:30px">min</div>
<div class="t" style="left:80px;top:40px">avg</div>
<div class="t" style="left:100px;top:20px">10.4°C</div>
<div class="t" style="left:105px;top:30px">4.3°C</div>
<div class="t" style="left:105px;top:40px">6.9°C</div>
<div class="t" style="left:140px;top:20px">64%</div>
<div class="t" style="left:140px;top:30px">44%</div>
<div class="t" style="left:165px;top:20px">1031.9hPa</div>
<div class="t" style="left:165px;top:30px">1022.4hPa</div>
<div class="t" style="left:225px;top:20px">0.0mm</div>
<div class="t" style="left:523px;top:20px">WS:3.2m/s</div>
<div class="t" style="left:593px;top:20px">WG:3.2m/s</div>
<div class="t" style="left:488px;top:30px">Slunce</div>
<div class="t" style="left:523px;top:30px">Východ:07:53</div>
<div class="t" style="left:593px;top:30px">Západ:16:42</div>
<div class="t" style="left:488px;top:40px">Měsíc</div>
<div class="t" style="left:523px;top:40px">Východ:22:54</div>
<div class="t" style="left:593px;top:40px">Západ:10:01</div>
<div class="t" style="left:6px;top:50px">hPa</div>
<div class="t" style="left:40px;top:50px">%</div>
<div class="t" style="left:57px;top:50px">°C</div>
<div class="t" style="left:3px;top:361px">1015</div>
<div class="t" style="left:3px;top:334px">1017</div>
<div class="t" style="left:3px;top:308px">1019</div>
<div class="t" style="left:3px;top:282px">1021</div>
<div class="t" style="left:3px;top:256px">1023</div>
<div class="t" style="left:3px;top:230px">1025</div>
<div class="t" style="left:3px;top:204px">1027</div>
<div class="t" style="left:3px;top:178px">1029</div>
<div class="t" style="left:3px;top:152px">1031</div>
<div class="t" style="left:3px;top:126px">1033</div>
<div class="t" style="left:3px;top:100px">1035</div>
<div class="t" style="left:3px;top:74px">1037</div>
<div class="t" style="left:40px;top:361px">0</div>
<div class="t" style="left:35px;top:331px">10</div>
<div class="t" style="left:35px;top:301px">20</div>
<div class="t" style="left:35px;top:271px">30</div>
<div class="t" style="left:35px;top:241px">40</div>
<div class="t" style="left:35px;top:211px">50</div>
<div class="t" style="left:35px;top:181px">60</div>
<div class="t" style="left:35px;top:151px">70</div>
<div class="t" style="left:35px;top:121px">80</div>
<div class="t" style="left:35px;top:91px">90</div>
<div class="t" style="left:30px;top:61px">100</div>
<div class="t" style="left:57px;top:361px">-6</div>
<div class="t" style="left:57px;top:332px">-4</div>
<div class="t" style="left:57px;top:303px">-2</div>
<div class="t" style="left:62px;top:275px">0</div>
<div class="t" style="left:62px;top:246px">2</div>
<div class="t" style="left:62px;top:218px">4</div>
<div class="t" style="left:62px;top:189px">6</div>
<div class="t" style="left:62px;top:160px">8</div>
<div class="t" style="left:57px;top:132px">10</div>
<div class="t" style="left:57px;top:103px">12</div>
<div class="t" style="left:57px;top:75px">14</div>
<div class="t" style="left:826px;top:61px">360</div>
<div class="t" style="left:826px;top:69px">&nbsp;N</div>
<div class="t" style="left:826px;top:98px">315</div>
<div class="t" style="left:826px;top:106px">NW</div>
<div class="t" style="left:826px;top:136px">270</div>
<div class="t" style="left:826px;top:144px">&nbsp;W</div>
<div class="t" style="left:826px;top:173px">225</div>
<div class="t" style="left:826px;top:181px">SW</div>
<div class="t" style="left:826px;top:211px">180</div>
<div class="t" style="left:826px;top:219px">&nbsp;S</div>
<div class="t" style="left:826px;top:248px">135</div>
<div class="t" style="left:826px;top:256px">SE</div>
<div class="t" style="left:826px;top:286px">90</div>
<div class="t" style="left:826px;top:294px">&nbsp;E</div>
<div class="t" style="left:826px;top:323px">45</div>
<div class="t" style="left:826px;top:331px">NE</div>
<div class="t" style="left:826px;top:50px">°</div>
<div class="t" style="left:846px;top:50px">m/s</div>
<div class="t" style="left:863px;top:50px">mm</div>
<div class="t" style="left:846px;top:211px">4</div>
<div class="t" style="left:846px;top:248px">3</div>
<div class="t" style="left:846px;top:286px">2</div>
<div class="t" style="left:846px;top:323px">1</div>
<div class="t" style="left:846px;top:361px">0</div>
<div class="t" style="left:863px;top:61px">1</div>
<div class="t" style="left:863px;top:361px">0</div>
<div class="t" style="left:833px;top:370px">čas</div>
<div class="ti" style="left:418px;top:51px">19.1.2025</div>
<div class="tr" style="left:66px;top:397px">00:00</div>
<div class="tr" style="left:81px;top:397px">00:30</div>
<div class="tr" style="left:97px;top:397px">01:00</div>
<div class="tr" style="left:113px;top:397px">01:30</div>
<div class="tr" style="left:128px;top:397px">02:00</div>
<div class="tr" style="left:144px;top:397px">02:30</div>
<div class="tr" style="left:160px;top:397px">03:00</div>
<div class="tr" style="left:176px;top:397px">03:30</div>
<div class="tr" style="left:191px;top:397px">04:00</div>
<div class="tr" style="left:207px;top:397px">04:30</div>
<div class="tr" style="left:223px;top:397px">05:00</div>
<div class="tr" style="left:239px;top:397px">05:30</div>
<div class="tr" style="left:254px;top:397px">06:00</div>
<div class="tr" style="left:270px;top:397px">06:30</div>
<div class="tr" style="left:286px;top:397px">07:00</div>
<div class="tr" style="left:302px;top:397px">07:30</div>
<div class="tr" style="left:317px;top:397px">08:00</div>
<div class="tr" style="left:333px;top:397px">08:30</div>
<div class="tr" style="left:349px;top:397px">09:00</div>
<div class="tr" style="left:365px;top:397px">09:30</div>
<div class="tr" style="left:380px;top:397px">10:00</div>
<div class="tr" style="left:396px;top:397px">10:30</div>
<div class="tr" style="left:412px;top:397px">11:00</div>
<div class="tr" style="left:428px;top:397px">11:30</div>
<div class="tr" style="left:443px;top:397px">12:00</div>
<div class="tr" style="left:459px;top:397px">12:30</div>
<div class="tr" style="left:475px;top:397px">13:00</div>
<div class="tr" style="left:491px;top:397px">13:30</div>
<div class="tr" style="left:506px;top:397px">14:00</div>
<div class="tr" style="left:522px;top:397px">14:30</div>
<div class="tr" style="left:538px;top:397px">15:00</div>
<div class="tr" style="left:554px;top:397px">15:30</div>
<div class="tr" style="left:569px;top:397px">16:00</div>
<div class="tr" style="left:585px;top:397px">16:30</div>
<div class="tr" style="left:601px;top:397px">17:00</div>
<div class="tr" style="left:616px;top:397px">17:30</div>
<div class="tr" style="left:632px;top:397px">18:00</div>
<div class="tr" style="left:648px;top:397px">18:30</div>
<div class="tr" style="left:664px;top:397px">19:00</div>
<div class="tr" style="left:679px;top:397px">19:30</div>
<div class="tr" style="left:695px;top:397px">20:00</div>
<div class="tr" style="left:711px;top:397px">20:30</div>
<div class="tr" style="left:727px;top:397px">21:00</div>
<div class="tr" style="left:742px;top:397px">21:30</div>
<div class="tr" style="left:758px;top:397px">22:00</div>
<div class="tr" style="left:774px;top:397px">22:30</div>
<div class="tr" style="left:790px;top:397px">23:00</div>
<div class="tr" style="left:805px;top:397px">23:30</div></div>
</div></body></html>
